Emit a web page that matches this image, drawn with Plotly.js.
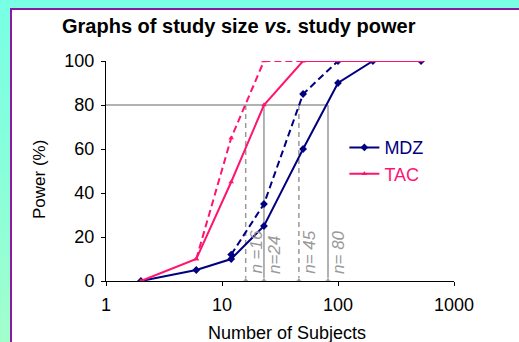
<!DOCTYPE html>
<html>
<head>
<meta charset="utf-8">
<script src="https://cdn.plot.ly/plotly-3.0.1.min.js"></script>
<style>
  html, body { margin: 0; padding: 0; width: 519px; height: 342px; overflow: hidden;
    background: linear-gradient(to bottom, #78ffe4 0%, #88ffda 50%, #a2ffcc 100%); }
  #panel { position: absolute; left: 10px; top: 8px; width: 509px; height: 334px;
    box-sizing: border-box; background: #ffffff;
    border-left: 2px solid #8c1a9c; border-top: 2px solid #8c1a9c; }
  #plot { position: absolute; left: 0; top: 0; width: 519px; height: 342px; }
</style>
</head>
<body>
<div id="panel"></div>
<div id="plot"></div>
<script>
// ---- data ----
const subjects     = [2, 6, 12, 23, 50, 100, 200, 520];
const mdzPower     = [0, 5, 10, 25, 60, 90, 100, 100];
const tacPower     = [0, 10, 45, 80, 100, 100, 100, 100];

const mdzDashX     = [12, 23, 50, 100];
const mdzDashPower = [12, 35, 85, 100];
const tacDashX     = [6, 12, 23, 50];
const tacDashPower = [10, 65, 100, 100];

const targetPower  = 80;
const refX         = [16, 23, 46, 82];
const refLabels    = ['n =16', 'n=24', 'n= 45', 'n= 80'];
const refDashed    = [true, false, true, false];

const xTickVals    = [1, 10, 100, 1000];
const xTickText    = ['1', '10', '100', '1000'];
const yTickVals    = [0, 20, 40, 60, 80, 100];

// ---- styling ----
const NAVY = '#000080';
const PINK = '#ff1470';
const GREY = '#999999';
const FONT = 'Liberation Sans, Arial, sans-serif';

const traces = [];

// horizontal 80% reference line
traces.push({
  x: [1, refX[refX.length - 1]], y: [targetPower, targetPower],
  mode: 'lines', line: {color: GREY, width: 1.5}, showlegend: false, hoverinfo: 'skip'
});
// vertical reference lines
refX.forEach((n, i) => {
  traces.push({
    x: [n, n], y: [0, targetPower], mode: 'lines+markers',
    line: {color: GREY, width: 1.5, dash: refDashed[i] ? '5px,4px' : 'solid'},
    marker: {symbol: 'diamond', size: [5, 0], color: GREY},
    showlegend: false, hoverinfo: 'skip'
  });
});

// dashed series
traces.push({
  x: mdzDashX, y: mdzDashPower, mode: 'lines+markers',
  line: {color: NAVY, width: 2, dash: '7px,4px'},
  marker: {symbol: 'diamond', size: 6, color: NAVY},
  showlegend: false
});
traces.push({
  x: tacDashX, y: tacDashPower, mode: 'lines+markers',
  line: {color: PINK, width: 2, dash: '7px,4px'},
  marker: {symbol: 'triangle-up', size: 5, color: PINK},
  showlegend: false
});
// solid series
traces.push({
  x: subjects, y: mdzPower, mode: 'lines+markers', name: '<span style="color:' + NAVY + '">MDZ</span>',
  line: {color: NAVY, width: 2},
  marker: {symbol: 'diamond', size: 6, color: NAVY}
});
traces.push({
  x: subjects, y: tacPower, mode: 'lines+markers', name: '<span style="color:' + PINK + '">TAC</span>',
  line: {color: PINK, width: 2},
  marker: {symbol: 'triangle-up', size: 5, color: PINK}
});

const annotations = refLabels.map((t, i) => ({
  x: Math.log10(refX[i]), y: 2.3, xref: 'x', yref: 'y',
  text: '<i>' + t + '</i>', showarrow: false, textangle: -90,
  xanchor: 'center', yanchor: 'bottom', xshift: 11,
  font: {family: FONT, size: 17, color: GREY}
}));
annotations.push({
  x: 0.52, y: -0.236, xref: 'paper', yref: 'paper', text: 'Number of Subjects',
  showarrow: false, xanchor: 'center', yanchor: 'middle',
  font: {family: FONT, size: 18, color: '#000000'}
});
annotations.push({
  x: -0.1925, y: 0.459, xref: 'paper', yref: 'paper', text: 'Power (%)',
  showarrow: false, textangle: -90, xanchor: 'center', yanchor: 'middle',
  font: {family: FONT, size: 17, color: '#000000'}
});

const layout = {
  width: 519, height: 342,
  margin: {l: 106, r: 65, t: 61, b: 61},
  paper_bgcolor: 'rgba(0,0,0,0)',
  plot_bgcolor: 'rgba(0,0,0,0)',
  font: {family: FONT, size: 17, color: '#000000'},
  title: {
    text: '<b>Graphs of study size <i>vs.</i> study power</b>',
    font: {family: FONT, size: 20, color: '#000000'},
    xref: 'container', yref: 'container', x: 0.1195, xanchor: 'left', y: 0.925, yanchor: 'middle'
  },
  xaxis: {
    type: 'log', range: [0, 3], tickmode: 'array', tickvals: xTickVals, ticktext: xTickText,
    showgrid: false, zeroline: false, showline: true, linecolor: '#000000', linewidth: 1,
    ticks: 'outside', ticklen: 4, tickcolor: '#000000', tickfont: {size: 18},
    ticklabelstandoff: 3
  },
  yaxis: {
    range: [0, 100], tickmode: 'array', tickvals: yTickVals,
    showgrid: false, zeroline: false, showline: true, linecolor: '#000000', linewidth: 1,
    ticks: 'outside', ticklen: 4, tickcolor: '#000000', tickfont: {size: 18},
    ticklabelstandoff: 3
  },
  legend: {
    x: 0.685, y: 0.69, xanchor: 'left', yanchor: 'top',
    bgcolor: 'rgba(0,0,0,0)', font: {family: FONT, size: 18}, tracegroupgap: 0
  },
  annotations: annotations,
  showlegend: true
};

Plotly.newPlot('plot', traces, layout, {displayModeBar: false, staticPlot: true});
</script>
</body>
</html>
